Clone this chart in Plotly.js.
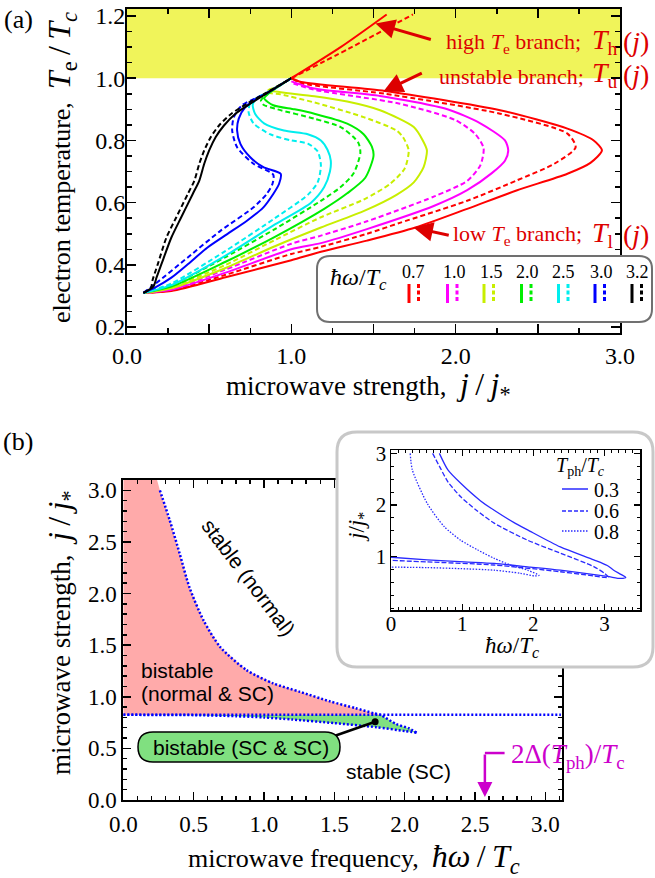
<!DOCTYPE html>
<html><head><meta charset="utf-8">
<script src="https://cdn.plot.ly/plotly-3.0.1.min.js"></script>
<style>html,body{margin:0;padding:0;background:#fff;} #chart{width:655px;height:878px;}</style>
</head><body><div id="chart"></div>
<script>
// ================= DATA =================
// ---- Panel (a): electron temperature Te/Tc (y) vs microwave strength j/j* (x)
const hw_labels = ['0.7','1.0','1.5','2.0','2.5','3.0','3.2'];
const hw_colors = ['#ff0000','#ff00ff','#c8ee00','#00ee00','#00eeee','#0000ff','#000000'];
const normal_state_Te = 1.0;

const red_solid_j  = [0.10,0.27,0.60,1.00,1.18,1.46,1.755,2.07,2.37,2.68,2.82,2.89,2.84,2.68,2.27,1.57,1.06,1.00];
const red_solid_Te = [0.31,0.316,0.36,0.415,0.442,0.478,0.52,0.58,0.639,0.693,0.728,0.768,0.80,0.838,0.897,0.959,0.988,1.00];
const red_dash_j   = [0.10,0.27,0.60,1.00,1.18,1.46,1.66,2.07,2.37,2.60,2.73,2.68,2.27,1.57,1.06,1.00];
const red_dash_Te  = [0.31,0.318,0.368,0.435,0.458,0.50,0.535,0.606,0.671,0.725,0.778,0.822,0.886,0.95,0.984,1.00];
const high_solid_j  = [1.00,1.30,1.58];
const high_solid_Te = [1.00,1.10,1.205];
const high_dash_j   = [1.00,1.35,1.74];
const high_dash_Te  = [1.00,1.095,1.205];

const mag_solid_j  = [0.10,0.27,0.60,1.00,1.18,1.46,1.87,2.07,2.22,2.30,2.32,2.30,2.15,1.95,1.54,1.14,1.00];
const mag_solid_Te = [0.31,0.32,0.375,0.45,0.47,0.515,0.59,0.64,0.695,0.735,0.768,0.80,0.855,0.90,0.943,0.967,0.99];
const mag_dash_j   = [0.10,0.27,0.60,1.00,1.18,1.46,1.87,2.07,2.15,2.17,2.12,2.00,1.66,1.14,1.00];
const mag_dash_Te  = [0.31,0.322,0.385,0.468,0.494,0.54,0.62,0.67,0.72,0.775,0.82,0.865,0.918,0.963,0.985];

const yel_solid_j  = [0.10,0.27,0.60,0.90,1.18,1.45,1.64,1.745,1.805,1.825,1.80,1.745,1.54,1.34,1.14,0.935,0.86,0.90,1.00];
const yel_solid_Te = [0.31,0.325,0.39,0.46,0.52,0.575,0.625,0.665,0.714,0.768,0.80,0.843,0.897,0.925,0.942,0.955,0.962,0.970,1.00];
const yel_dash_j   = [0.10,0.27,0.60,0.90,1.18,1.44,1.60,1.69,1.714,1.68,1.64,1.44,1.14,0.935,0.85,0.90,1.00];
const yel_dash_Te  = [0.31,0.328,0.40,0.48,0.553,0.61,0.66,0.71,0.768,0.81,0.832,0.875,0.922,0.948,0.955,0.968,1.00];

const grn_solid_j  = [0.10,0.27,0.60,0.90,1.20,1.34,1.45,1.50,1.49,1.44,1.34,1.14,1.02,0.89,0.835,0.86,1.00];
const grn_solid_Te = [0.31,0.33,0.41,0.49,0.58,0.63,0.68,0.75,0.78,0.82,0.854,0.886,0.90,0.913,0.935,0.95,1.00];
const grn_dash_j   = [0.10,0.27,0.60,0.90,1.18,1.30,1.38,1.42,1.41,1.38,1.30,1.14,0.915,0.83,0.815,0.85,1.00];
const grn_dash_Te  = [0.31,0.335,0.425,0.515,0.606,0.65,0.695,0.76,0.79,0.81,0.843,0.87,0.90,0.915,0.928,0.948,1.00];

const cyn_solid_j  = [0.10,0.27,0.60,0.90,1.12,1.20,1.235,1.24,1.22,1.18,1.10,0.955,0.834,0.78,0.765,0.79,0.85,1.00];
const cyn_solid_Te = [0.31,0.335,0.43,0.53,0.60,0.65,0.70,0.735,0.77,0.80,0.82,0.832,0.855,0.885,0.915,0.935,0.952,1.00];
const cyn_dash_j   = [0.10,0.27,0.60,0.90,1.10,1.16,1.18,1.16,1.10,1.00,0.87,0.77,0.74,0.75,0.80,0.85,1.00];
const cyn_dash_Te  = [0.31,0.34,0.445,0.55,0.625,0.665,0.72,0.765,0.79,0.80,0.82,0.855,0.89,0.92,0.94,0.952,1.00];

const blu_solid_j  = [0.10,0.17,0.27,0.37,0.49,0.61,0.73,0.83,0.89,0.925,0.935,0.83,0.75,0.69,0.67,0.68,0.72,0.79,0.85,1.00];
const blu_solid_Te = [0.31,0.327,0.359,0.402,0.456,0.499,0.542,0.585,0.628,0.66,0.693,0.714,0.746,0.789,0.832,0.87,0.907,0.935,0.952,1.00];
const blu_dash_j   = [0.10,0.17,0.37,0.57,0.77,0.85,0.885,0.89,0.77,0.67,0.64,0.65,0.70,0.78,0.85,1.00];
const blu_dash_Te  = [0.31,0.338,0.424,0.51,0.585,0.628,0.66,0.69,0.725,0.778,0.832,0.875,0.913,0.935,0.952,1.00];

const blk_solid_j  = [0.10,0.16,0.18,0.21,0.27,0.33,0.40,0.44,0.47,0.50,0.54,0.59,0.66,0.75,0.85,1.00];
const blk_solid_Te = [0.31,0.33,0.36,0.403,0.488,0.553,0.628,0.671,0.725,0.768,0.811,0.848,0.886,0.918,0.951,1.00];
const blk_dash_j   = [0.10,0.145,0.155,0.186,0.24,0.30,0.37,0.41,0.44,0.47,0.51,0.56,0.635,0.73,0.84,1.00];
const blk_dash_Te  = [0.31,0.325,0.35,0.40,0.488,0.553,0.628,0.671,0.725,0.768,0.811,0.848,0.886,0.918,0.951,1.00];

// ---- Panel (b): phase diagram, microwave frequency (x) vs strength (y)
const b_upper_hw = [0.24,0.26,0.33,0.40,0.47,0.57,0.69,0.876,1.065,1.255,1.47,1.65,1.78,1.83,1.94,2.03,2.085];
const b_upper_j  = [3.10,3.00,2.71,2.39,2.06,1.74,1.48,1.258,1.13,1.048,0.955,0.89,0.84,0.823,0.735,0.695,0.652];
const b_lower_hw = [0.0,0.5,0.8,1.0,1.2,1.5,1.8,2.0,2.085];
const b_lower_j  = [0.825,0.822,0.812,0.80,0.78,0.745,0.705,0.668,0.652];
const b_sc_line_hw = [0.0,3.11];
const b_sc_line_j  = [0.825,0.825];
const b_gap_hw = 2.57;           // 2Δ(Tph)/Tc
const b_marker_point = [1.79,0.758];

// ---- Inset: j/j* vs ħω/Tc for Tph/Tc = 0.3, 0.6, 0.8
const ins_labels = ['0.3','0.6','0.8'];
const ins03_hw = [0.68,0.80,0.98,1.26,1.45,1.73,1.92,2.38,2.85,3.04,3.13,3.23,3.30,3.23,3.04,2.38,1.96,1.45,1.03,0.51,0.0];
const ins03_j  = [3.00,2.68,2.42,2.08,1.90,1.66,1.52,1.19,0.94,0.83,0.74,0.66,0.60,0.58,0.62,0.74,0.80,0.87,0.90,0.94,0.99];
const ins06_hw = [0.585,0.70,0.80,0.98,1.20,1.45,1.92,2.38,2.85,3.00,3.06,3.00,2.85,2.38,1.45,0.51,0.0];
const ins06_j  = [3.00,2.70,2.45,2.16,1.90,1.65,1.32,1.07,0.81,0.68,0.60,0.60,0.63,0.71,0.84,0.90,0.93];
const ins08_hw = [0.27,0.30,0.51,0.75,0.98,1.22,1.45,1.68,1.92,2.08,2.02,1.82,1.45,0.98,0.51,0.0];
const ins08_j  = [3.00,2.68,2.03,1.58,1.32,1.13,0.97,0.84,0.74,0.64,0.63,0.68,0.74,0.77,0.79,0.80];

// ================= HELPERS =================
const W = 655, H = 878;
const PX = x => x / W, PY = y => 1 - y / H;
const SERIF = 'Liberation Serif, Times New Roman, serif';
const SANS = 'Liberation Sans, Arial, sans-serif';

function rr(x0, y0, x1, y1, r, fx, fy) {
  const p = (x, y) => fx(x) + ' ' + fy(y);
  return 'M ' + p(x0 + r, y0) + ' L ' + p(x1 - r, y0) + ' Q ' + p(x1, y0) + ' ' + p(x1, y0 + r) +
    ' L ' + p(x1, y1 - r) + ' Q ' + p(x1, y1) + ' ' + p(x1 - r, y1) +
    ' L ' + p(x0 + r, y1) + ' Q ' + p(x0, y1) + ' ' + p(x0, y1 - r) +
    ' L ' + p(x0, y0 + r) + ' Q ' + p(x0, y0) + ' ' + p(x0 + r, y0) + ' Z';
}
function ln(xs, ys, color, dash, width, xa, ya, shape) {
  return {type: 'scatter', mode: 'lines', x: xs, y: ys, xaxis: xa, yaxis: ya,
    line: {color: color, width: width, dash: dash, shape: shape || 'spline', smoothing: 0.7},
    hoverinfo: 'skip', showlegend: false};
}

// ================= TRACES =================
const DASH = '5px,3px';
const aCurves = [
  [red_solid_j, red_solid_Te, red_dash_j, red_dash_Te],
  [mag_solid_j, mag_solid_Te, mag_dash_j, mag_dash_Te],
  [yel_solid_j, yel_solid_Te, yel_dash_j, yel_dash_Te],
  [grn_solid_j, grn_solid_Te, grn_dash_j, grn_dash_Te],
  [cyn_solid_j, cyn_solid_Te, cyn_dash_j, cyn_dash_Te],
  [blu_solid_j, blu_solid_Te, blu_dash_j, blu_dash_Te],
  [blk_solid_j, blk_solid_Te, blk_dash_j, blk_dash_Te]
];
const traces = [];
aCurves.forEach((c, i) => {
  traces.push(ln(c[2], c[3], hw_colors[i], DASH, 2, 'x', 'y'));
  traces.push(ln(c[0], c[1], hw_colors[i], 'solid', 2, 'x', 'y'));
});
traces.push(ln(high_dash_j, high_dash_Te, hw_colors[0], DASH, 2, 'x', 'y'));
traces.push(ln(high_solid_j, high_solid_Te, hw_colors[0], 'solid', 2, 'x', 'y'));

// panel (b) fills
const iCross = b_upper_hw.indexOf(1.83);
const yTopB = 3.1;
const pinkX = [0].concat(b_upper_hw.slice(0, iCross + 1), [0]);
const pinkY = [yTopB].concat(b_upper_j.slice(0, iCross + 1), [b_sc_line_j[0]]);
traces.push({type: 'scatter', mode: 'lines', x: pinkX, y: pinkY, xaxis: 'x2', yaxis: 'y2',
  fill: 'toself', fillcolor: '#ffaaaa', line: {width: 0, color: 'rgba(0,0,0,0)'}, hoverinfo: 'skip', showlegend: false});
const grnX = b_lower_hw.concat(b_upper_hw.slice(iCross).reverse());
const grnY = b_lower_j.concat(b_upper_j.slice(iCross).reverse());
traces.push({type: 'scatter', mode: 'lines', x: grnX, y: grnY, xaxis: 'x2', yaxis: 'y2',
  fill: 'toself', fillcolor: '#80e080', line: {width: 0, color: 'rgba(0,0,0,0)'}, hoverinfo: 'skip', showlegend: false});
const DOT = '2px,2px';
traces.push(ln(b_upper_hw.slice(1), b_upper_j.slice(1), '#0000ff', DOT, 2.5, 'x2', 'y2'));
traces.push(ln(b_lower_hw, b_lower_j, '#0000ff', DOT, 2.5, 'x2', 'y2'));
traces.push(ln(b_sc_line_hw, b_sc_line_j, '#0000ff', DOT, 2.5, 'x2', 'y2', 'linear'));

// box subplot (empty) and inset
traces.push({type: 'scatter', mode: 'lines', x: [], y: [], xaxis: 'x3', yaxis: 'y3', hoverinfo: 'skip', showlegend: false});
const INS = '#2a2aff';
traces.push(ln(ins03_hw, ins03_j, INS, 'solid', 1.3, 'x4', 'y4'));
traces.push(ln(ins06_hw, ins06_j, INS, '5px,2px', 1.3, 'x4', 'y4'));
traces.push(ln(ins08_hw, ins08_j, INS, '1.5px,1.5px', 1.3, 'x4', 'y4'));

// ================= AXES =================
function ax(extra) {
  return Object.assign({
    showline: true, linecolor: '#000', linewidth: 2, mirror: 'ticks',
    ticks: 'inside', tickcolor: '#000', tickwidth: 1.5,
    showgrid: false, zeroline: false, fixedrange: true,
    tickfont: {family: SERIF, size: 23, color: '#000'}
  }, extra);
}
const minor = (dtick, len, w) => ({ticks: 'inside', tickmode: 'linear', tick0: 0, dtick: dtick, ticklen: len,
  tickcolor: '#000', tickwidth: w || 1.5, showgrid: false});

const layout = {
  width: W, height: H, margin: {l: 0, r: 0, t: 0, b: 0},
  paper_bgcolor: '#fff', plot_bgcolor: 'rgba(0,0,0,0)', showlegend: false,
  xaxis: ax({domain: [PX(127), PX(620)], range: [0, 3], anchor: 'y',
    tickmode: 'array', tickvals: [0, 0.5, 1, 1.5, 2, 2.5, 3], ticktext: ['0.0', '', '1.0', '', '2.0', '', '3.0'],
    ticklen: 9, ticklabelstandoff: 0, tickfont: {family: SERIF, size: 24, color: '#000'}, minor: minor(0.25, 5)}),
  yaxis: ax({domain: [PY(333), PY(9)], range: [0.181, 1.2225], anchor: 'x',
    tickmode: 'linear', tick0: 0.2, dtick: 0.2, tickformat: '.1f', ticklen: 9, ticklabelstandoff: -5,
    tickfont: {family: SERIF, size: 24, color: '#000'}, minor: minor(0.05, 5)}),
  xaxis2: ax({domain: [PX(123.3), PX(561.7)], range: [0, 3.116], anchor: 'y2',
    tickmode: 'linear', tick0: 0, dtick: 0.5, tickformat: '.1f', ticklen: 8, ticklabelstandoff: 2,
    minor: minor(0.1, 4)}),
  yaxis2: ax({domain: [PY(800), PY(480)], range: [0, 3.1], anchor: 'x2',
    tickmode: 'linear', tick0: 0, dtick: 0.5, tickformat: '.1f', ticklen: 8, ticklabelstandoff: 0,
    minor: minor(0.1, 4)}),
  xaxis3: {domain: [PX(333), 1], range: [333, 655], anchor: 'y3', visible: false, fixedrange: true},
  yaxis3: {domain: [PY(671), PY(428)], range: [671, 428], anchor: 'x3', visible: false, fixedrange: true},
  xaxis4: ax({domain: [PX(391), PX(640)], range: [0, 3.5], anchor: 'y4', linewidth: 1.5,
    tickmode: 'array', tickvals: [0, 1, 2, 3], ticklen: 6, tickwidth: 1.2, ticklabelstandoff: -6,
    tickfont: {family: SERIF, size: 21, color: '#000'}, minor: minor(0.1, 3, 1)}),
  yaxis4: ax({domain: [PY(610), PY(450)], range: [-0.03, 3.065], anchor: 'x4', linewidth: 1.5,
    tickmode: 'array', tickvals: [1, 2, 3], ticklen: 6, tickwidth: 1.2, ticklabelstandoff: -1,
    tickfont: {family: SERIF, size: 21, color: '#000'}, minor: minor(0.25, 3, 1)})
};

// ================= SHAPES =================
const shapes = [];
// yellow normal-state band (Te > Tc)
shapes.push({type: 'rect', xref: 'x domain', x0: 0, x1: 1, yref: 'y', y0: normal_state_Te, y1: 1.2225,
  fillcolor: '#f0f45a', line: {width: 0}, layer: 'below'});
// inset white box (in its own pixel-like subplot so it covers panel (b) frame)
shapes.push({type: 'path', xref: 'x3', yref: 'y3', layer: 'below',
  path: rr(337, 432, 653, 667, 20, x => x, y => y), fillcolor: '#fff', line: {color: '#c8c8c8', width: 3}});
// legend box (a)
shapes.push({type: 'path', xref: 'paper', yref: 'paper', layer: 'above',
  path: rr(317, 256, 652, 322, 13, PX, PY), fillcolor: '#fff', line: {color: '#707070', width: 2}});
const legSolidX = [409, 447.5, 484, 521.5, 558.5, 595, 632];
legSolidX.forEach((x, i) => {
  shapes.push({type: 'line', xref: 'paper', yref: 'paper', layer: 'above', x0: PX(x), x1: PX(x), y0: PY(284), y1: PY(303),
    line: {color: hw_colors[i], width: 3}});
  shapes.push({type: 'line', xref: 'paper', yref: 'paper', layer: 'above', x0: PX(x + 9.5), x1: PX(x + 9.5), y0: PY(284), y1: PY(303),
    line: {color: hw_colors[i], width: 3, dash: '4px,2.5px'}});
});
// connector line + dot, then pill box in (b)
shapes.push({type: 'line', xref: 'x2', yref: 'y2', layer: 'above', x0: 1.50, y0: 0.62, x1: b_marker_point[0], y1: b_marker_point[1],
  line: {color: '#000', width: 2.5}});
shapes.push({type: 'circle', xref: 'x2', yref: 'y2', layer: 'above', xsizemode: 'pixel', ysizemode: 'pixel',
  xanchor: b_marker_point[0], yanchor: b_marker_point[1], x0: -3.5, x1: 3.5, y0: -3.5, y1: 3.5,
  fillcolor: '#000', line: {width: 0}});
shapes.push({type: 'path', xref: 'paper', yref: 'paper', layer: 'above',
  path: rr(138, 732, 340, 762, 15, PX, PY), fillcolor: '#80e080', line: {color: '#000', width: 1.5}});
// magenta bent arrow (horizontal part)
shapes.push({type: 'line', xref: 'x2', yref: 'y2', layer: 'above', x0: b_gap_hw, x1: 2.71, y0: 0.455, y1: 0.455,
  line: {color: '#cc00cc', width: 2.5}});
// inset legend lines
const insDash = ['solid', '4px,2px', '1.5px,1.5px'];
[489, 511, 531].forEach((y, i) => {
  shapes.push({type: 'line', xref: 'paper', yref: 'paper', layer: 'above', x0: PX(562), x1: PX(588), y0: PY(y), y1: PY(y),
    line: {color: INS, width: 1.5, dash: insDash[i]}});
});
layout.shapes = shapes;

// ================= ANNOTATIONS =================
const A = [];
function txt(x, y, text, size, opts) {
  A.push(Object.assign({xref: 'paper', yref: 'paper', x: PX(x), y: PY(y), text: text, showarrow: false,
    xanchor: 'center', yanchor: 'middle', font: {family: SERIF, size: size, color: '#000'}}, opts || {}));
}
const TS = '\u2009';
const M = s => '<span style="font-size:32px">' + s + '</span>';
const SL = TS + '/' + TS;
txt(18, 20, '(a)', 26);
txt(18, 441, '(b)', 26);
txt(61, 168, 'electron temperature,  ' + M('<i>T</i><sub>e</sub>' + SL + '<i>T</i><sub><i>c</i></sub>'), 26, {textangle: -90});
txt(368, 386, 'microwave strength,  ' + M('<i>j</i>' + SL + '<i>j</i><sub>*</sub>'), 27);
txt(61, 633, 'microwave strength,  ' + M('<i>j</i>' + SL + '<i>j</i><sub>*</sub>'), 27, {textangle: -90});
txt(354, 858, 'microwave frequency,  ' + M('<i>ħω</i>' + SL + '<i>T</i><sub><i>c</i></sub>'), 26);

// branch labels (a): words, T-with-subscript and (j) as separate texts
const RED = '#dd0000';
const redF = s => ({family: SERIF, size: s, color: RED});
function branch(yc, words, sub, rightWords) {
  txt(rightWords, yc + 1, words, 22, {xanchor: 'right', font: redF(22)});
  txt(590, yc, '<i>T</i><sub>' + sub + '</sub>', 28, {xanchor: 'left', font: redF(28)});
  txt(651, yc, '(<i>j</i>)', 28, {xanchor: 'right', font: redF(28)});
}
branch(42, 'high <i>T</i><sub>e</sub> branch;', 'h', 583);
branch(75, 'unstable branch;', 'u', 586);
branch(234, 'low <i>T</i><sub>e</sub> branch;', 'l', 584);
function arrow(xh, yh, xt, yt, color, w, xr, yr, sz) {
  A.push({xref: xr, yref: yr, axref: xr, ayref: yr, x: xh, y: yh, ax: xt, ay: yt, text: '', showarrow: true,
    arrowhead: 2, arrowsize: sz || 1.3, arrowwidth: w, arrowcolor: color, standoff: 0, startstandoff: 0});
}
arrow(1.512, 1.176, 1.858, 1.123, RED, 3, 'x', 'y');
arrow(1.56, 0.957, 1.803, 1.019, RED, 3, 'x', 'y');
arrow(1.743, 0.52, 1.967, 0.494, RED, 3, 'x', 'y');

// legend (a) texts
txt(358, 279, '<i>ħω</i>/<i>T</i><sub><i>c</i></sub>', 24);
const legNumX = [413, 454, 491, 527, 563, 601, 637];
hw_labels.forEach((s, i) => txt(legNumX[i], 272, s, 18));

// panel (b) texts
const sans = (size, color) => ({family: SANS, size: size, color: color || '#000'});
txt(249, 577, 'stable (normal)', 21, {textangle: 53, font: sans(21)});
txt(139, 670, 'bistable', 21, {xanchor: 'left', font: sans(21)});
txt(139, 693, '(normal &amp; SC)', 21, {xanchor: 'left', font: sans(21)});
txt(241, 747, 'bistable (SC &amp; SC)', 21, {font: sans(21)});
txt(398, 771, 'stable (SC)', 21, {font: sans(21)});
const MAG = '#cc00cc';
txt(509, 756, '2Δ(<i>T</i><sub>ph</sub>)/<i>T</i><sub>c</sub>', 27, {xanchor: 'left', font: {family: SERIF, size: 27, color: MAG}});
arrow(b_gap_hw, 0.03, b_gap_hw, 0.455, MAG, 2.5, 'x2', 'y2', 1.2);

// inset texts
txt(512, 647, '<i>ħω</i>/<i>T</i><sub><i>c</i></sub>', 23);
txt(358, 527, '<i>j</i>/<i>j</i><sub>*</sub>', 23, {textangle: -90});
txt(580, 466, '<i>T</i><sub>ph</sub>/<i>T</i><sub><i>c</i></sub>', 20);
[490, 511, 532].forEach((y, i) => txt(592, y, ins_labels[i], 20, {xanchor: 'left'}));

layout.annotations = A;

Plotly.newPlot('chart', traces, layout, {displayModeBar: false, staticPlot: true});
</script></body></html>
